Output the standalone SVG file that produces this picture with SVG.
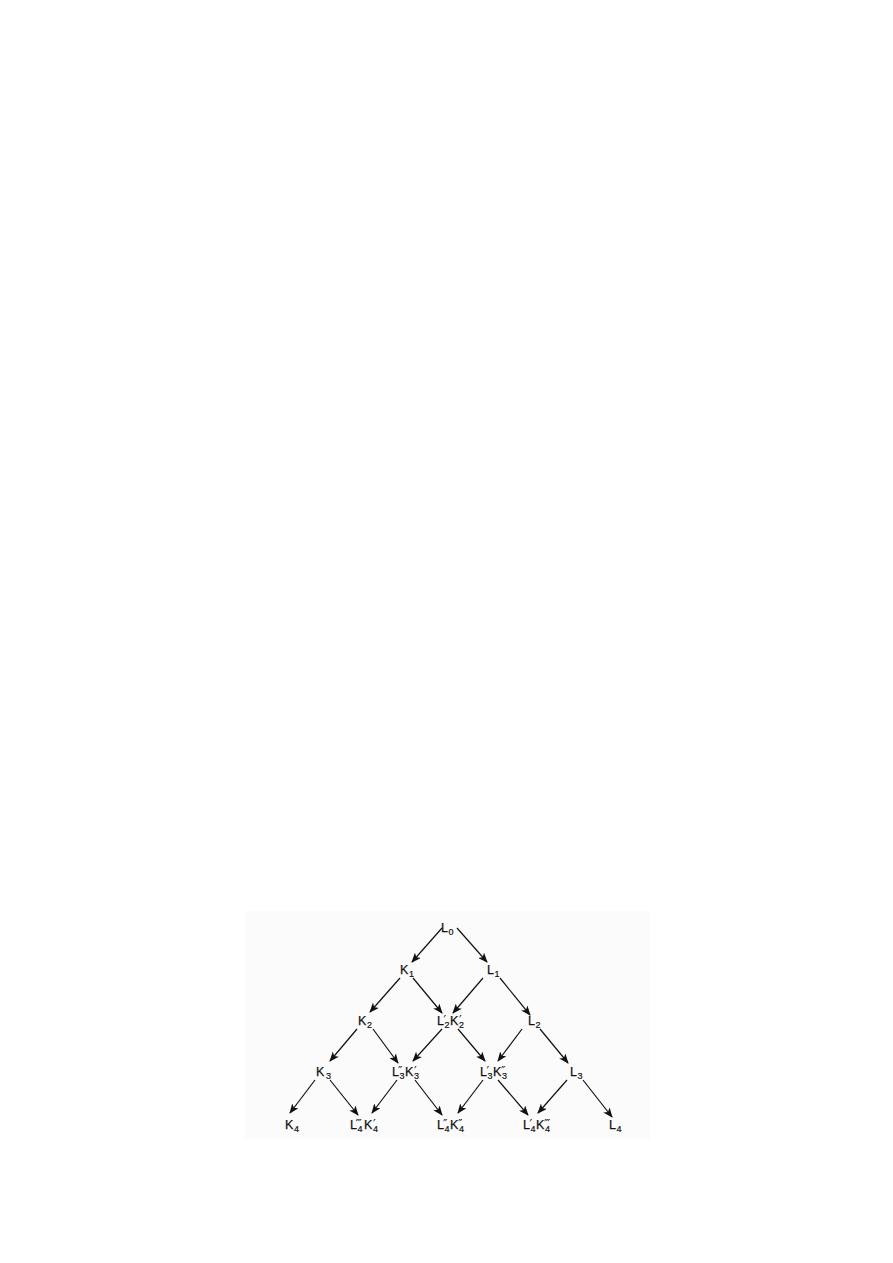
<svg xmlns="http://www.w3.org/2000/svg" width="893" height="1263" viewBox="0 0 893 1263">
<defs>
<style>
.t{font-family:"Liberation Sans","DejaVu Sans",sans-serif;font-size:12.5px;fill:#111;stroke:#111;stroke-width:0.25}
.s{font-family:"Liberation Sans","DejaVu Sans",sans-serif;font-size:9px;stroke-width:0.2}
.p{font-family:"DejaVu Sans","Liberation Sans",sans-serif;font-size:12px;stroke-width:0}
.e{stroke:#111;stroke-width:1.2;fill:none;marker-end:url(#ah)}
</style>
<marker id="ah" markerWidth="10" markerHeight="8" refX="9" refY="4" orient="auto" markerUnits="userSpaceOnUse">
<path d="M0,0 L10,4 L0,8 L2.5,4 Z" fill="#111"/>
</marker>
</defs>
<rect width="893" height="1263" fill="#fff"/>
<rect x="245" y="911" width="405" height="228" fill="#fbfbfb"/>
<g id="connectors">
<line class="e" x1="442" y1="928" x2="412" y2="962"/>
<line class="e" x1="457" y1="928" x2="487" y2="962"/>
<line class="e" x1="400" y1="978" x2="370" y2="1012"/>
<line class="e" x1="413" y1="978" x2="442" y2="1013"/>
<line class="e" x1="483" y1="978" x2="453" y2="1013"/>
<line class="e" x1="500" y1="978" x2="530" y2="1015"/>
<line class="e" x1="357" y1="1029" x2="330" y2="1061"/>
<line class="e" x1="373" y1="1029" x2="398" y2="1063"/>
<line class="e" x1="442" y1="1029" x2="413" y2="1061"/>
<line class="e" x1="458" y1="1029" x2="485" y2="1061"/>
<line class="e" x1="522" y1="1029" x2="498" y2="1061"/>
<line class="e" x1="540" y1="1029" x2="568" y2="1063"/>
<line class="e" x1="315" y1="1080" x2="290" y2="1113"/>
<line class="e" x1="330" y1="1080" x2="358" y2="1115"/>
<line class="e" x1="397" y1="1080" x2="372" y2="1113"/>
<line class="e" x1="415" y1="1080" x2="442" y2="1115"/>
<line class="e" x1="483" y1="1080" x2="458" y2="1113"/>
<line class="e" x1="498" y1="1080" x2="528" y2="1115"/>
<line class="e" x1="567" y1="1080" x2="538" y2="1113"/>
<line class="e" x1="583" y1="1080" x2="612" y2="1117"/>
</g>
<g id="L0"><text class="t" x="441" y="932">L<tspan class="s" x="448.5" y="935">0</tspan></text></g>
<g id="K1"><text class="t" x="400" y="974">K<tspan class="s" x="409" y="977">1</tspan></text></g>
<g id="L1"><text class="t" x="487" y="974">L<tspan class="s" x="494.5" y="977">1</tspan></text></g>
<g id="K2"><text class="t" x="358" y="1025">K<tspan class="s" x="367" y="1028">2</tspan></text></g>
<g id="L2pK2p"><text class="t" x="437" y="1025">L<tspan class="p" x="443.5" y="1024">′</tspan><tspan class="s" x="444.5" y="1028">2</tspan><tspan x="450" y="1025">K</tspan><tspan class="p" x="459" y="1024">′</tspan><tspan class="s" x="459" y="1028">2</tspan></text></g>
<g id="L2"><text class="t" x="528" y="1025">L<tspan class="s" x="535.5" y="1028">2</tspan></text></g>
<g id="K3"><text class="t" x="316" y="1076">K<tspan class="s" x="326" y="1079">3</tspan></text></g>
<g id="L3ppK3p"><text class="t" x="392" y="1076">L<tspan class="p" x="398" y="1075">″</tspan><tspan class="s" x="399.5" y="1079">3</tspan><tspan x="405" y="1076">K</tspan><tspan class="p" x="414" y="1075">′</tspan><tspan class="s" x="414" y="1079">3</tspan></text></g>
<g id="L3pK3pp"><text class="t" x="480" y="1076">L<tspan class="p" x="486.5" y="1075">′</tspan><tspan class="s" x="487.5" y="1079">3</tspan><tspan x="493" y="1076">K</tspan><tspan class="p" x="501" y="1075">″</tspan><tspan class="s" x="502" y="1079">3</tspan></text></g>
<g id="L3"><text class="t" x="570" y="1076">L<tspan class="s" x="577.5" y="1079">3</tspan></text></g>
<g id="K4"><text class="t" x="285" y="1129">K<tspan class="s" x="294" y="1132">4</tspan></text></g>
<g id="L4pppK4p"><text class="t" x="350" y="1129">L<tspan class="p" x="355.5" y="1128">‴</tspan><tspan class="s" x="357.5" y="1132">4</tspan><tspan x="364" y="1129">K</tspan><tspan class="p" x="373" y="1128">′</tspan><tspan class="s" x="373" y="1132">4</tspan></text></g>
<g id="L4ppK4pp"><text class="t" x="437" y="1129">L<tspan class="p" x="443" y="1128">″</tspan><tspan class="s" x="444.5" y="1132">4</tspan><tspan x="450" y="1129">K</tspan><tspan class="p" x="458" y="1128">″</tspan><tspan class="s" x="459" y="1132">4</tspan></text></g>
<g id="L4pK4ppp"><text class="t" x="523" y="1129">L<tspan class="p" x="529.5" y="1128">′</tspan><tspan class="s" x="530.5" y="1132">4</tspan><tspan x="536" y="1129">K</tspan><tspan class="p" x="544" y="1128">‴</tspan><tspan class="s" x="545" y="1132">4</tspan></text></g>
<g id="L4"><text class="t" x="609" y="1129">L<tspan class="s" x="616.5" y="1132">4</tspan></text></g>
</svg>
